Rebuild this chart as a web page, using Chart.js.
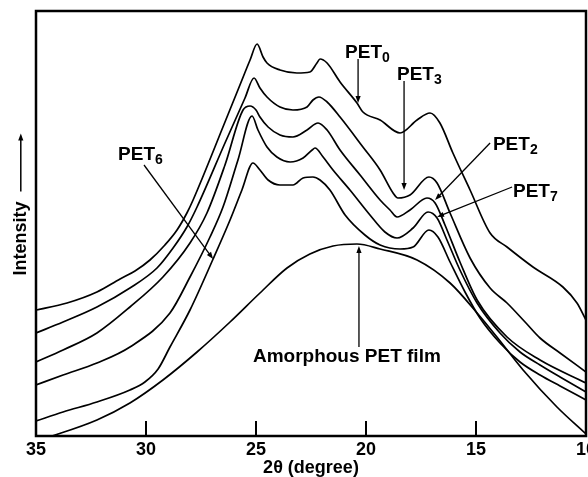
<!DOCTYPE html>
<html>
<head>
<meta charset="utf-8">
<script src="https://cdn.jsdelivr.net/npm/chart.js@4.4.0/dist/chart.umd.min.js"></script>
<style>
  html, body { margin: 0; padding: 0; background: #fff; }
  #wrap { width: 588px; height: 477px; }
</style>
</head>
<body>
<div id="wrap"><canvas id="xrd"></canvas></div>
<script>
// 2theta (degree) and intensity (arbitrary units)
const pet0X = [35, 33.59, 32.23, 31.18, 30.5, 29.82, 29.14, 28.59, 28.14, 27.86, 26.41, 25.73, 25.27, 24.95, 24.68, 24.5, 23.91, 23.14, 22.55, 22.23, 22.09, 21.77, 21.18, 20.41, 20.14, 19.36, 18.45, 17.68, 17.09, 16.64, 16.05, 15.27, 14.36, 13.59, 12.41, 11.05, 10.41, 10];
const pet0Y = [126, 133, 144, 157, 165, 176, 191, 206, 223, 236, 314, 351, 376, 392, 379, 373, 366, 363, 364, 373, 377, 373, 354, 333, 324, 316, 303, 316, 323, 313, 283, 246, 203, 189, 169, 149, 133, 116];

const pet3X = [35, 33.77, 32.23, 30.73, 29.5, 28.77, 28.14, 27.68, 26.41, 25.5, 25.09, 24.82, 24.5, 23.91, 23.32, 22.68, 22.41, 22.14, 21.77, 21.18, 20.14, 19.36, 18.77, 18.55, 18.0, 17.14, 16.77, 16.18, 15.27, 14.36, 13.59, 12.77, 12.09, 11.18, 10];
const pet3Y = [103, 114, 129, 148, 168, 188, 209, 229, 293, 338, 358, 348, 339, 329, 326, 329, 336, 339, 334, 319, 289, 266, 243, 238, 241, 259, 253, 223, 178, 148, 133, 114, 98, 83, 64];

const pet2X = [35, 33.77, 32.23, 30.73, 29.23, 28.0, 27.23, 26.41, 25.59, 25.27, 25.0, 24.82, 24.45, 23.91, 23.32, 22.68, 22.18, 21.77, 21.18, 20.27, 19.36, 18.91, 18.59, 18.0, 17.23, 16.86, 16.41, 15.73, 14.95, 13.59, 12.09, 10];
const pet2Y = [74, 86, 103, 129, 159, 193, 223, 271, 326, 330, 326, 319, 309, 301, 299, 306, 313, 306, 286, 261, 236, 226, 219, 226, 238, 233, 211, 174, 136, 99, 76, 53];

const pet7X = [35, 33.77, 32.23, 30.73, 28.91, 28.0, 27.09, 26.5, 25.82, 25.18, 24.91, 24.5, 24.05, 23.45, 22.86, 22.45, 22.32, 21.95, 21.5, 20.73, 19.82, 19.14, 18.59, 17.86, 17.18, 16.77, 16.32, 15.73, 14.95, 13.91, 13.0, 12.09, 11.18, 10];
const pet7Y = [51, 61, 73, 89, 123, 159, 199, 229, 276, 320, 306, 289, 279, 274, 278, 286, 288, 279, 266, 246, 221, 204, 198, 208, 224, 218, 196, 166, 133, 103, 84, 71, 59, 44];

const pet6X = [35, 33.77, 32.23, 30.73, 30.05, 29.45, 28.91, 28.0, 26.95, 26.18, 25.64, 25.14, 24.82, 24.45, 23.91, 23.32, 22.86, 22.41, 22.09, 21.64, 20.95, 20.05, 19.36, 18.45, 17.86, 17.14, 16.73, 16.18, 15.5, 14.82, 13.91, 13.0, 12.09, 11.18, 10];
const pet6Y = [15, 24, 34, 46, 54, 67, 89, 126, 177, 216, 246, 273, 266, 256, 251, 251, 258, 259, 256, 246, 221, 201, 191, 187, 189, 206, 199, 174, 144, 118, 93, 74, 61, 50, 36];

const amorphX = [35, 34.27, 32.23, 30.73, 29.23, 27.68, 26.18, 24.82, 23.59, 22.55, 21.5, 20.41, 19.36, 17.68, 16.18, 14.95, 14.05, 12.86, 11.32, 10];
const amorphY = [-5, 0, 16, 33, 56, 84, 114, 143, 168, 182, 190, 192, 187, 176, 153, 123, 99, 66, 29, 2];

const xTicks = [35, 30, 25, 20, 15, 10];

// labels with their arrows, in data units (2theta, intensity)
const notes = [
  { text: 'PET', sub: '0', at: [20.95, 378], from: [20.36, 377], to: [20.36, 333] },
  { text: 'PET', sub: '3', at: [18.59, 356], from: [18.27, 355], to: [18.27, 246] },
  { text: 'PET', sub: '2', at: [14.23, 286], from: [14.36, 293], to: [16.86, 236] },
  { text: 'PET', sub: '7', at: [13.32, 239], from: [13.36, 249], to: [16.77, 219] },
  { text: 'PET', sub: '6', at: [31.27, 276], from: [30.09, 271], to: [26.95, 177] },
  { text: 'Amorphous PET film', sub: '', at: [25.14, 74], from: [20.32, 89], to: [20.32, 190] }
];

const FONT = '"Liberation Sans", Arial, sans-serif';

function pts(xs, ys) {
  return xs.map((x, i) => ({ x: x, y: ys[i] }));
}

function arrow(ctx, x1, y1, x2, y2) {
  const ang = Math.atan2(y2 - y1, x2 - x1);
  const len = 7, half = 2.6;
  const c = Math.cos(ang), s = Math.sin(ang);
  ctx.beginPath();
  ctx.moveTo(x1, y1);
  ctx.lineTo(x2 - c * len * 0.6, y2 - s * len * 0.6);
  ctx.stroke();
  ctx.beginPath();
  ctx.moveTo(x2, y2);
  ctx.lineTo(x2 - c * len + s * half, y2 - s * len - c * half);
  ctx.lineTo(x2 - c * len - s * half, y2 - s * len + c * half);
  ctx.closePath();
  ctx.fill();
}

const decor = {
  id: 'decor',
  afterDraw(chart) {
    const { ctx, chartArea: a, scales: { x, y } } = chart;
    ctx.save();
    ctx.strokeStyle = '#000';
    ctx.fillStyle = '#000';
    ctx.lineWidth = 2.5;
    ctx.strokeRect(a.left, a.top, a.right - a.left, a.bottom - a.top);

    ctx.lineWidth = 1.3;
    notes.forEach(n => {
      arrow(ctx, x.getPixelForValue(n.from[0]), y.getPixelForValue(n.from[1]),
        x.getPixelForValue(n.to[0]), y.getPixelForValue(n.to[1]));
      const px = x.getPixelForValue(n.at[0]);
      const py = y.getPixelForValue(n.at[1]);
      ctx.textAlign = 'left';
      ctx.textBaseline = 'alphabetic';
      ctx.font = 'bold 19px ' + FONT;
      ctx.fillText(n.text, px, py);
      if (n.sub) {
        const w = ctx.measureText(n.text).width;
        ctx.font = 'bold 14px ' + FONT;
        ctx.fillText(n.sub, px + w, py + 4);
      }
    });

    // arrow after the "Intensity" axis title
    const t = y.options.title;
    ctx.font = 'bold 18px ' + FONT;
    const full = ctx.measureText(t.text).width;
    const word = ctx.measureText(t.text.trim()).width;
    const tx = y.left + t.padding.top + 18 * 1.2 / 2;
    const start = (a.top + a.bottom) / 2 + full / 2 - word - 10;
    ctx.lineWidth = 1.5;
    arrow(ctx, tx, start, tx, start - 58);
    ctx.restore();
  }
};

const black = '#000';
function series(label, xs, ys) {
  return {
    label: label,
    data: pts(xs, ys),
    borderColor: black,
    borderWidth: 1.7,
    pointRadius: 0,
    fill: false,
    cubicInterpolationMode: 'monotone'
  };
}

Chart.defaults.font.family = FONT;
Chart.defaults.color = black;

new Chart(document.getElementById('xrd'), {
  type: 'line',
  data: {
    datasets: [
      series('PET0', pet0X, pet0Y),
      series('PET3', pet3X, pet3Y),
      series('PET2', pet2X, pet2Y),
      series('PET7', pet7X, pet7Y),
      series('PET6', pet6X, pet6Y),
      series('Amorphous PET film', amorphX, amorphY)
    ]
  },
  options: {
    responsive: true,
    maintainAspectRatio: false,
    devicePixelRatio: 1,
    animation: false,
    layout: { padding: { top: 11, right: 2, left: 0, bottom: 0 } },
    plugins: { legend: { display: false }, tooltip: { enabled: false } },
    scales: {
      x: {
        type: 'linear',
        reverse: true,
        min: 10,
        max: 35,
        afterBuildTicks: s => { s.ticks = xTicks.map(v => ({ value: v })); },
        afterFit: s => { s.height = 41; s.paddingLeft = 0; s.paddingRight = 0; },
        ticks: { font: { size: 18, weight: 'bold' }, color: black, padding: 18, maxRotation: 0, autoSkip: false },
        grid: { display: true, drawOnChartArea: false, drawTicks: true, tickLength: -15, lineWidth: 2, color: black },
        border: { display: false },
        title: { display: true, text: '2θ (degree)', font: { size: 18, weight: 'bold', lineHeight: 0.95 }, color: black, padding: { top: 0, bottom: 0 } }
      },
      y: {
        type: 'linear',
        min: 0,
        max: 425,
        afterFit: s => { s.width = 36; },
        ticks: { display: false },
        grid: { display: false, drawTicks: false },
        border: { display: false },
        title: { display: true, text: 'Intensity      ', font: { size: 18, weight: 'bold' }, color: black, padding: { top: 10, bottom: 4 } }
      }
    }
  },
  plugins: [decor]
});
</script>
</body>
</html>
